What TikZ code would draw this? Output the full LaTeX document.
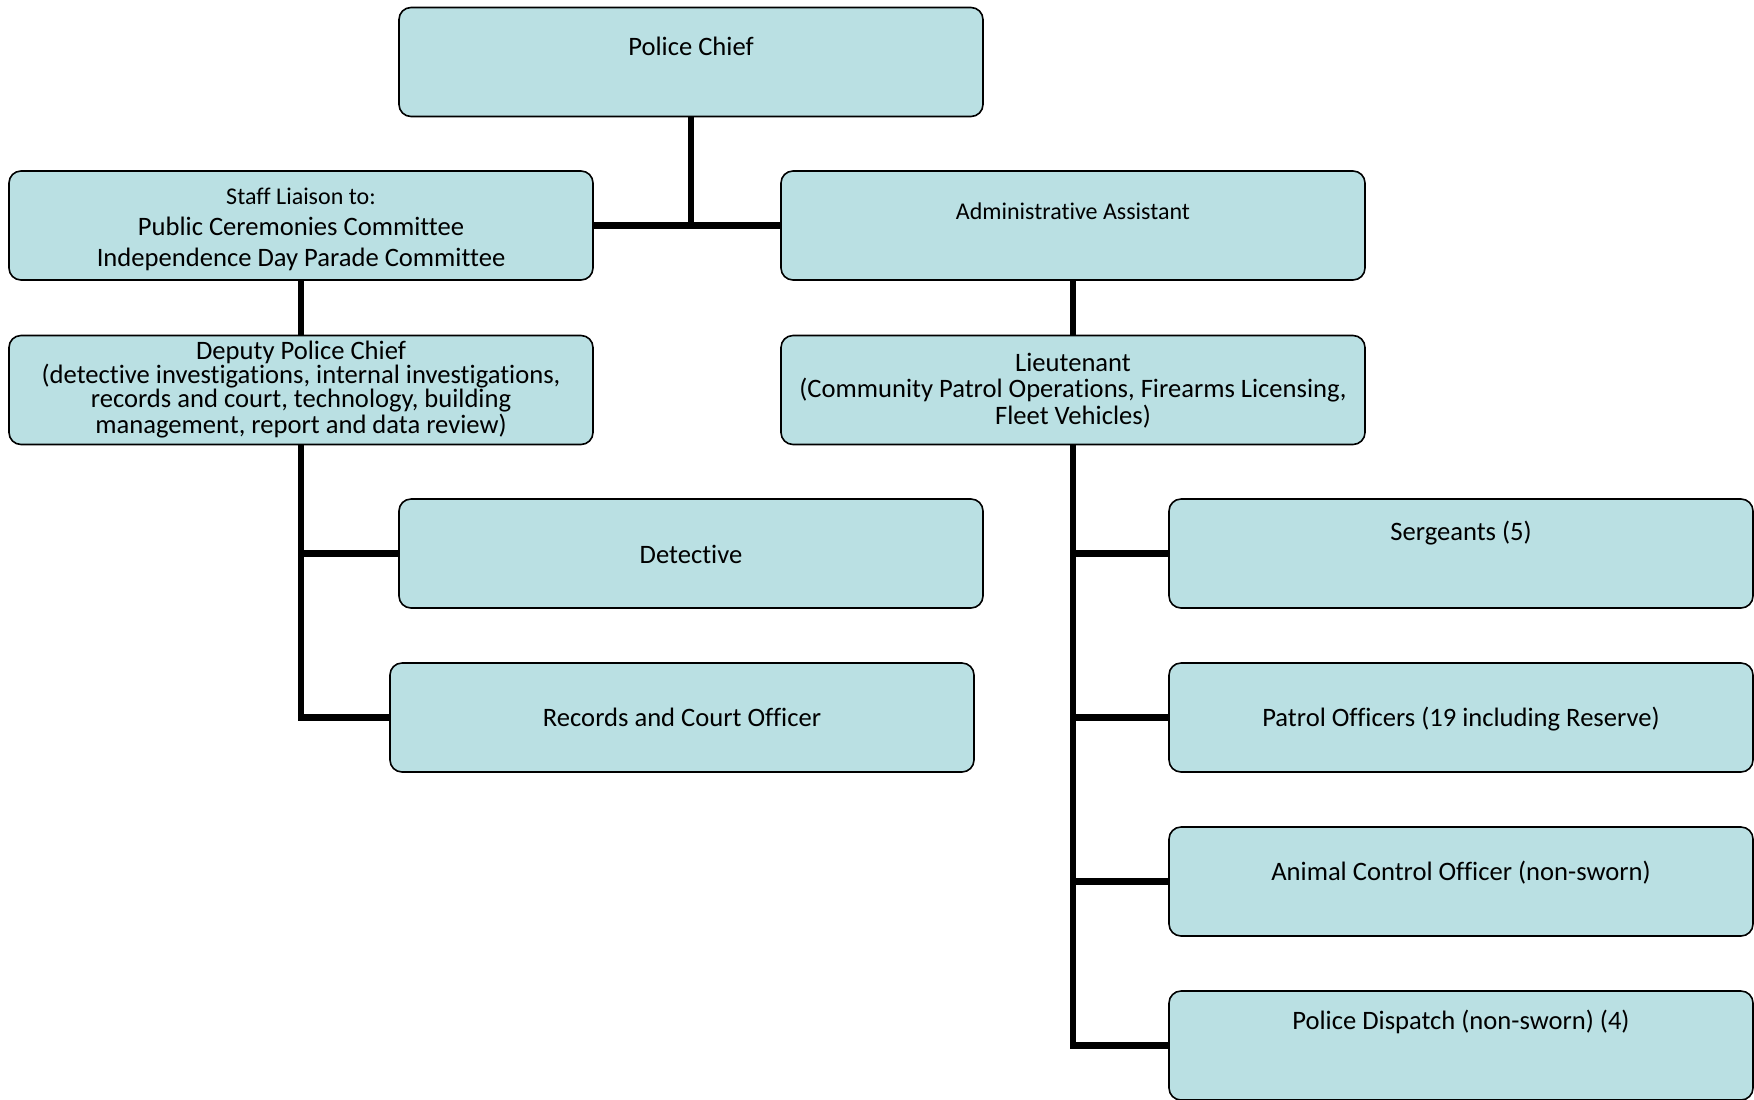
\documentclass[tikz,border=0pt]{standalone}
\usepackage{fontspec}
\setmainfont[Ligatures={NoCommon,NoContextual},Contextuals=NoAlternate,RawFeature={-liga;-clig;-calt;-dlig}]{Carlito}
\definecolor{boxfill}{RGB}{186,224,227}
\begin{document}
\begin{tikzpicture}[x=0.5pt,y=-0.5pt,
  box/.style={draw=black, line width=0.8pt, fill=boxfill, rounded corners=6pt,
    minimum width=292pt, minimum height=54.5pt, inner sep=0pt},
  tag/.style={inner sep=0pt, align=center, font=\fontsize{13.3}{16}\selectfont},
  small/.style={inner sep=0pt, align=center, font=\fontsize{12}{14.5}\selectfont},
  link/.style={draw=black, line width=3.3pt}]
\useasboundingbox (0,0) rectangle (1754,1099);

% boxes
\node[box] (chief)    at (691,62) {};
\node[box] (staff)    at (301,225.5) {};
\node[box] (admin)    at (1073,225.5) {};
\node[box] (deputy)   at (301,390) {};
\node[box] (lt)       at (1073,390) {};
\node[box] (det)      at (691,553.5) {};
\node[box] (rec)      at (682,717.5) {};
\node[box] (serg)     at (1461,553.5) {};
\node[box] (patrol)   at (1461,717.5) {};
\node[box] (animal)   at (1461,881.5) {};
\node[box] (dispatch) at (1461,1045.5) {};

% connectors
\draw[link] (chief.south) -- (chief.south |- staff.east);
\draw[link] (staff.east) -- (admin.west);
\draw[link] (staff.south) -- (deputy.north);
\draw[link] (admin.south) -- (lt.north);
\draw[link] (deputy.south) |- (det.west);
\draw[link] (deputy.south) |- (rec.west);
\draw[link] (lt.south) |- (serg.west);
\draw[link] (lt.south) |- (patrol.west);
\draw[link] (lt.south) |- (animal.west);
\draw[link] (lt.south) |- (dispatch.west);

% labels
\node[tag] (t-chief) at (691,46) {Police Chief};
\node[tag, font=\fontsize{13.3}{15.5}\selectfont] (t-staff) at (301,229)
  {{\fontsize{12}{15.5}\selectfont Staff Liaison to:}\\Public Ceremonies Committee\\Independence Day Parade Committee};
\node[small] (t-admin) at (1073,211) {Administrative Assistant};
\node[tag, font=\fontsize{13.3}{12}\selectfont] (t-deputy) at (301,390)
  {Deputy Police Chief\\(detective investigations, internal investigations,\\records and court, technology, building\\management, report and data review)};
\node[tag, font=\fontsize{13.3}{13.2}\selectfont] (t-lt) at (1073,390.5)
  {Lieutenant\\(Community Patrol Operations, Firearms Licensing,\\Fleet Vehicles)};
\node[tag] (t-det)      at (691,554)  {Detective};
\node[tag] (t-rec)      at (682,717)  {Records and Court Officer};
\node[tag] (t-serg)     at (1461,533.5) {Sergeants (5)};
\node[tag] (t-patrol)   at (1461,719.5) {Patrol Officers (19 including Reserve)};
\node[tag] (t-animal)   at (1461,872.5) {Animal Control Officer (non-sworn)};
\node[tag] (t-dispatch) at (1461,1021.5) {Police Dispatch (non-sworn) (4)};
\end{tikzpicture}
\end{document}
